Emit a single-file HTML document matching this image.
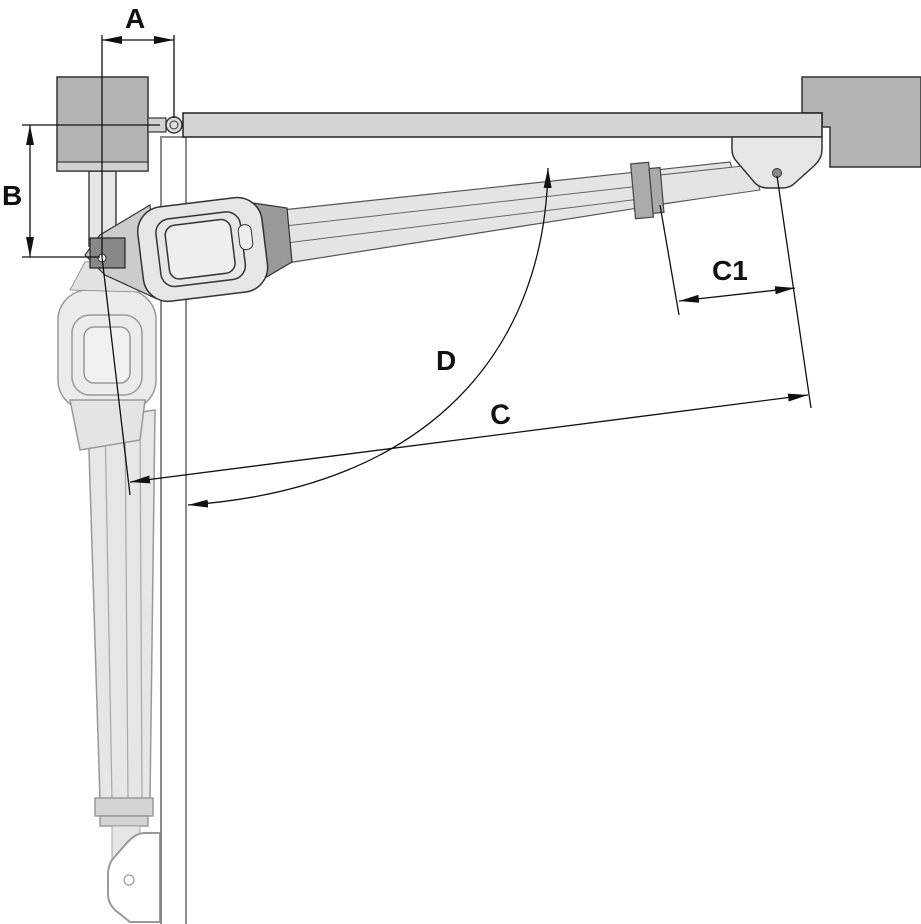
<!DOCTYPE html>
<html><head><meta charset="utf-8"><style>html,body{margin:0;padding:0;background:#fff}svg{display:block}</style></head>
<body>
<svg width="921" height="924" viewBox="0 0 921 924" xmlns="http://www.w3.org/2000/svg">
<defs>
<marker id="ar" viewBox="0 0 20 8" refX="20" refY="4" markerWidth="20" markerHeight="8" orient="auto-start-reverse" markerUnits="userSpaceOnUse"><path d="M0,0 L20,4 L0,8 Z" fill="#111"/></marker>
</defs>
<rect x="161" y="137" width="25" height="790" fill="#fff" stroke="#8a8a8a" stroke-width="2"/>
<rect x="89" y="171" width="27" height="75" fill="#e6e6e6" stroke="#444" stroke-width="1.5"/>
<rect x="57" y="77" width="91" height="94" fill="#b3b3b3" stroke="#333" stroke-width="1.5"/>
<rect x="57" y="162" width="91" height="9" fill="#d0d0d0" stroke="#333" stroke-width="1.2"/>
<rect x="148" y="118" width="18" height="14" fill="#d0d0d0" stroke="#333" stroke-width="1.2"/>
<circle cx="174" cy="125" r="8" fill="#ddd" stroke="#333" stroke-width="1.5"/>
<circle cx="174" cy="125" r="4" fill="none" stroke="#333" stroke-width="1"/>
<path d="M802,77 H921 V167 H830 V127 H822 V113 H802 Z" fill="#b3b3b3" stroke="#333" stroke-width="1.5"/>
<rect x="183" y="113" width="639" height="24" fill="#d4d4d4" stroke="#222" stroke-width="1.5"/>
<g opacity="0.85">
<path d="M88,420 L155,410 L150,800 L100,800 Z" fill="#e2e2e2" stroke="#888" stroke-width="1.5"/>
<path d="M105,420 L112,800 M125,420 L128,800 M140,418 L142,800" stroke="#999" stroke-width="1.2"/>
<rect x="95" y="798" width="58" height="18" fill="#ccc" stroke="#888" stroke-width="1.5"/>
<rect x="100" y="816" width="48" height="10" fill="#ccc" stroke="#888" stroke-width="1.5"/>
<path d="M112,826 L140,826 L140,835 L112,870 Z" fill="#e2e2e2" stroke="#999"/>
<path d="M160,833 L145,833 Q135,833 125,845 L112,860 Q108,866 108,875 V895 Q108,903 115,910 L130,922 H160 Z" fill="#fff" stroke="#888" stroke-width="2"/>
<circle cx="129" cy="880" r="5" fill="#fff" stroke="#888" stroke-width="1.2"/>
<rect x="58" y="290" width="98" height="120" rx="30" fill="#e8e8e8" stroke="#888" stroke-width="1.5"/>
<rect x="72" y="315" width="70" height="80" rx="18" fill="none" stroke="#888" stroke-width="1.5"/>
<rect x="84" y="327" width="46" height="56" rx="10" fill="#eee" stroke="#888" stroke-width="1.5"/>
<path d="M70,400 L145,400 L140,440 L80,450 Z" fill="#e0e0e0" stroke="#888" stroke-width="1.5"/>
<path d="M70,290 L85,262 L110,260 L140,292 Z" fill="#ddd" stroke="#888"/>
</g>
<path d="M282,210 L730,162 L740,192 L287,263 Z" fill="#e4e4e4" stroke="#555" stroke-width="1.2"/>
<path d="M285,226 L640,186 M286,243 L640,199" stroke="#666" stroke-width="1"/>
<path d="M660,175 L752,165 L760,190 L662,204 Z" fill="#e4e4e4" stroke="#555" stroke-width="1"/>
<rect x="633" y="163" width="18" height="55" fill="#aaa" stroke="#444" stroke-width="1.2" transform="rotate(-5 642 190)"/>
<rect x="651" y="168" width="11" height="45" fill="#aaa" stroke="#444" stroke-width="1.2" transform="rotate(-5 656 190)"/>
<path d="M732,137 H822 V150 Q822,158 815,165 L795,183 Q790,188 782,188 H768 Q760,188 755,183 L738,163 Q732,157 732,150 Z" fill="#e6e6e6" stroke="#333" stroke-width="1.5"/>
<circle cx="777" cy="173" r="4.5" fill="#888" stroke="#333"/>
<path d="M253,203 L287,208 L292,262 L258,282 Z" fill="#999" stroke="#333" stroke-width="1.2"/>
<path d="M150,205 L100,235 L85,255 L105,275 L155,298 Z" fill="#ccc" stroke="#333" stroke-width="1.2"/>
<rect x="90" y="238" width="35" height="30" fill="#888" stroke="#222" stroke-width="1.2"/>
<circle cx="102" cy="258" r="4" fill="#fff" stroke="#222"/>
<g transform="rotate(-7 202 248)">
<rect x="140" y="202" width="125" height="95" rx="25" fill="#e6e6e6" stroke="#333" stroke-width="1.5"/>
<rect x="158" y="215" width="85" height="68" rx="14" fill="none" stroke="#333" stroke-width="1.5"/>
<rect x="167" y="222" width="66" height="54" rx="10" fill="#eee" stroke="#333" stroke-width="1.5"/>
<rect x="240" y="230" width="13" height="25" rx="6" fill="#eee" stroke="#333"/>
</g>
<g stroke="#111" stroke-width="1.3" fill="none">
<line x1="102" y1="35" x2="102" y2="257"/>
<line x1="102" y1="257" x2="130" y2="495"/>
<line x1="174" y1="35" x2="174" y2="118"/>
<line x1="102" y1="40" x2="174" y2="40" marker-start="url(#ar)" marker-end="url(#ar)"/>
<line x1="22" y1="125" x2="160" y2="125"/>
<line x1="22" y1="257" x2="100" y2="257"/>
<line x1="30" y1="125" x2="30" y2="257" marker-start="url(#ar)" marker-end="url(#ar)"/>
<line x1="777" y1="176" x2="811" y2="408"/>
<line x1="660" y1="205" x2="679" y2="315"/>
<line x1="679" y1="301" x2="795" y2="288" marker-start="url(#ar)" marker-end="url(#ar)"/>
<line x1="130" y1="482" x2="808" y2="395" marker-start="url(#ar)" marker-end="url(#ar)"/>
<path d="M548,168 C545,350 430,488 188,505" marker-start="url(#ar)" marker-end="url(#ar)"/>
</g>
<g font-family="Liberation Sans, sans-serif" font-weight="bold" font-size="28" fill="#111">
<text x="125" y="28">A</text>
<text x="2" y="205">B</text>
<text x="712" y="280">C1</text>
<text x="490" y="424" transform="rotate(-7 500 412)">C</text>
<text x="436" y="370">D</text>
</g>
</svg>
</body></html>
